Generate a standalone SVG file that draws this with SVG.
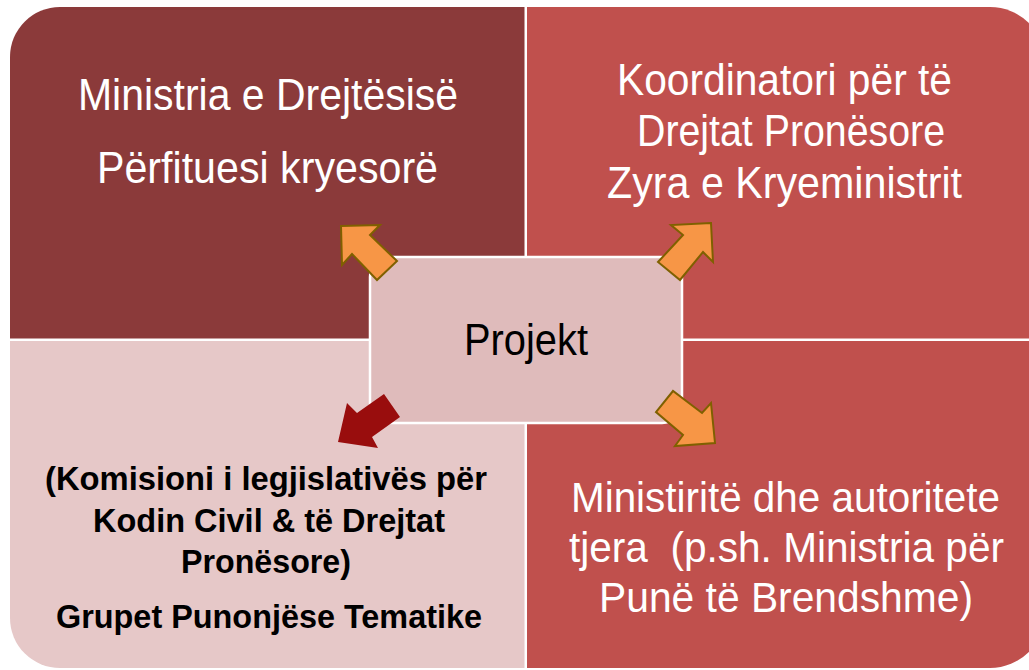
<svg xmlns="http://www.w3.org/2000/svg" width="1029" height="670" viewBox="0 0 1029 670">
<style>
.w{fill:#FFFFFF;font-family:"Liberation Sans",Arial,sans-serif;font-size:44px}
.w2{fill:#FFFFFF;font-family:"Liberation Sans",Arial,sans-serif;font-size:42px}
.k{fill:#000000;font-family:"Liberation Sans",Arial,sans-serif;font-size:44px}
.b{fill:#000000;font-family:"Liberation Sans",Arial,sans-serif;font-size:33px;font-weight:bold}
.oa{fill:#F79646;stroke:#7F6000;stroke-width:2;stroke-linejoin:miter}
.ra{fill:#990D0D}
</style>
<rect x="0" y="0" width="1029" height="670" fill="#FFFFFF"/>
<g id="node-ministria-drejtesise">
<path d="M10,338.5 L10,57 A50,50 0 0 1 60,7 L524.5,7 L524.5,338.5 Z" fill="#8B3A3A"/>
<text class="w" x="78" y="110" textLength="380" lengthAdjust="spacingAndGlyphs">Ministria e Drejtësisë</text>
<text class="w" x="97" y="183" textLength="341" lengthAdjust="spacingAndGlyphs">Përfituesi kryesorë</text>
</g>
<g id="node-koordinatori">
<path d="M527,7 L990,7 A55,55 0 0 1 1045,62 L1045,338.5 L527,338.5 Z" fill="#C0504D"/>
<text class="w" x="617" y="95" textLength="335" lengthAdjust="spacingAndGlyphs">Koordinatori për të</text>
<text class="w" x="637" y="146" textLength="308" lengthAdjust="spacingAndGlyphs">Drejtat Pronësore</text>
<text class="w" x="607" y="198" textLength="355" lengthAdjust="spacingAndGlyphs">Zyra e Kryeministrit</text>
</g>
<g id="node-komisioni">
<path d="M10,341 L524.5,341 L524.5,668 L60,668 A50,50 0 0 1 10,618 Z" fill="#E6C8C8"/>
<text class="b" x="45" y="490" textLength="442" lengthAdjust="spacingAndGlyphs">(Komisioni i legjislativës për</text>
<text class="b" x="93" y="532" textLength="352" lengthAdjust="spacingAndGlyphs">Kodin Civil &amp; të Drejtat</text>
<text class="b" x="181" y="573" textLength="170" lengthAdjust="spacingAndGlyphs">Pronësore)</text>
<text class="b" x="56" y="628" textLength="426" lengthAdjust="spacingAndGlyphs">Grupet Punonjëse Tematike</text>
</g>
<g id="node-ministrite">
<path d="M527,341 L1045,341 L1045,613 A55,55 0 0 1 990,668 L527,668 Z" fill="#C0504D"/>
<text class="w2" x="571" y="512" textLength="429" lengthAdjust="spacingAndGlyphs">Ministiritë dhe autoritete</text>
<text class="w2" x="569" y="562" textLength="435" lengthAdjust="spacingAndGlyphs" xml:space="preserve" style="white-space:pre">tjera  (p.sh. Ministria për</text>
<text class="w2" x="599" y="612" textLength="374" lengthAdjust="spacingAndGlyphs">Punë të Brendshme)</text>
</g>
<g id="node-projekt">
<rect x="370" y="257" width="312" height="166" rx="20" ry="20" fill="#DFBBBB" stroke="#FFFFFF" stroke-width="2.5"/>
<text class="k" x="464" y="355" textLength="124" lengthAdjust="spacingAndGlyphs">Projekt</text>
</g>
<g id="connectors">
<polygon class="oa" points="341,226 380,225 370,235 397,261 377,280 352,254 342,265"/>
<polygon class="oa" points="711,223 671,225 683,235 658,262 680,280 703,252 713,262"/>
<polygon class="ra" points="338,442 347,403 357,413 384,394 400,417 372,437 378,448"/>
<polygon class="oa" points="715,443 711,403 702,413 673,391 656,412 683,435 675,446"/>
</g>
</svg>
